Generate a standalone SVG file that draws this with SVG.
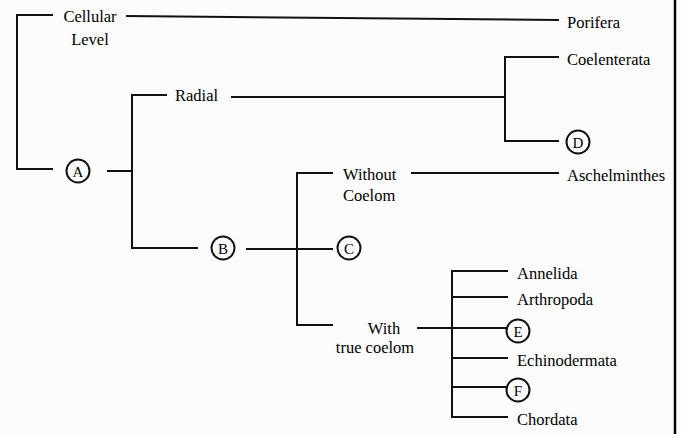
<svg xmlns="http://www.w3.org/2000/svg" width="681" height="434" viewBox="0 0 681 434">
<style>
.ln{stroke:#111;stroke-width:2;fill:none;stroke-linecap:square}
.t{font-family:"Liberation Serif","Times New Roman",serif;font-size:16.5px;fill:#000}
.c{fill:none;stroke:#111;stroke-width:2}
.lt{font-family:"Liberation Serif","Times New Roman",serif;font-size:15px;fill:#000;text-anchor:middle}
</style>
<rect width="681" height="434" fill="#fcfcfc"/>
<line x1="675" y1="0" x2="675" y2="434" stroke="#000" stroke-width="2.5"/>
<g id="connectors">
<polyline class="ln" points="52,15 17,15 17,169 52,169"/>
<line class="ln" x1="127" y1="16" x2="558" y2="20"/>
<line class="ln" x1="108" y1="171" x2="132" y2="171"/>
<polyline class="ln" points="166,95 132,95 132,248 197,248"/>
<line class="ln" x1="232" y1="97" x2="505" y2="97"/>
<polyline class="ln" points="558,57 505,57 505,141 558,141"/>
<line class="ln" x1="247" y1="249" x2="332" y2="249"/>
<polyline class="ln" points="332,173 297,173 297,325 332,325"/>
<line class="ln" x1="412" y1="173" x2="558" y2="173"/>
<line class="ln" x1="418" y1="328" x2="507" y2="328"/>
<line class="ln" x1="452" y1="271" x2="452" y2="417"/>
<line class="ln" x1="452" y1="271" x2="507" y2="271"/>
<line class="ln" x1="452" y1="297" x2="507" y2="297"/>
<line class="ln" x1="452" y1="358" x2="507" y2="358"/>
<line class="ln" x1="452" y1="387" x2="507" y2="387"/>
<line class="ln" x1="452" y1="417" x2="507" y2="417"/>
</g>
<g id="cellular"><text class="t" x="90" y="22" text-anchor="middle" font-size="17">Cellular</text><text class="t" x="90" y="45" text-anchor="middle" font-size="17">Level</text></g>
<g id="porifera"><text class="t" x="567" y="28">Porifera</text></g>
<g id="A"><circle class="c" cx="78" cy="171" r="11.5"/><text class="lt" x="78" y="176.5">A</text></g>
<g id="radial"><text class="t" x="175" y="101">Radial</text></g>
<g id="coelenterata"><text class="t" x="567" y="65">Coelenterata</text></g>
<g id="D"><circle class="c" cx="578" cy="142" r="11.5"/><text class="lt" x="578" y="147.5">D</text></g>
<g id="B"><circle class="c" cx="223" cy="248" r="11.5"/><text class="lt" x="223" y="253.5">B</text></g>
<g id="C"><circle class="c" cx="349" cy="248" r="11.5"/><text class="lt" x="349" y="253.5">C</text></g>
<g id="without"><text class="t" x="343" y="180">Without</text><text class="t" x="343" y="201">Coelom</text></g>
<g id="aschelminthes"><text class="t" x="567" y="181">Aschelminthes</text></g>
<g id="with"><text class="t" x="384" y="333.5" text-anchor="middle" font-size="16">With</text><text class="t" x="375" y="353" text-anchor="middle" font-size="16">true coelom</text></g>
<g id="annelida"><text class="t" x="517" y="279">Annelida</text></g>
<g id="arthropoda"><text class="t" x="517" y="305">Arthropoda</text></g>
<g id="E"><circle class="c" cx="518" cy="331" r="11.5"/><text class="lt" x="518" y="336.5">E</text></g>
<g id="echinodermata"><text class="t" x="517" y="366">Echinodermata</text></g>
<g id="F"><circle class="c" cx="518" cy="390" r="11.5"/><text class="lt" x="518" y="395.5">F</text></g>
<g id="chordata"><text class="t" x="517" y="425">Chordata</text></g>
</svg>
